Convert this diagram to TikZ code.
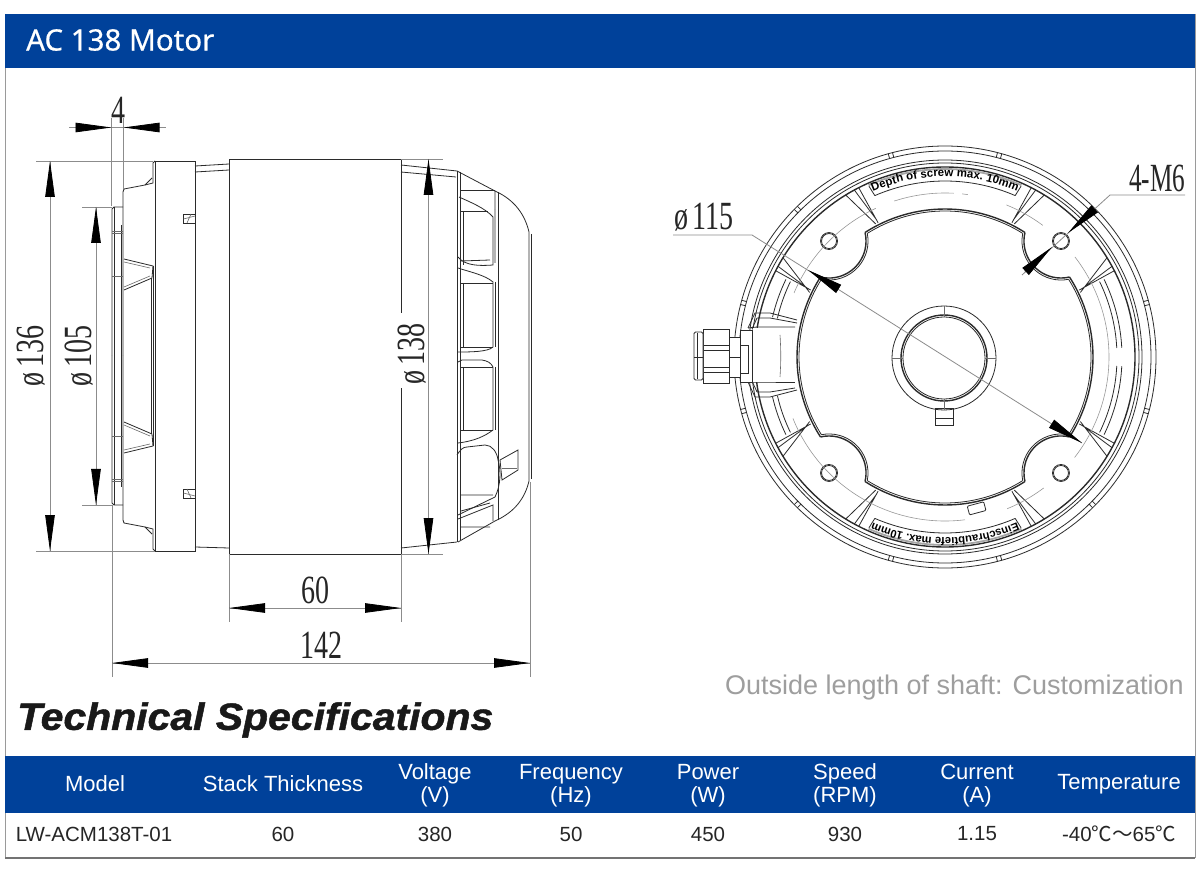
\documentclass[tikz,border=0pt]{standalone}
\usepackage{fontspec}
\setmainfont{Liberation Sans}
\newfontfamily\dimfont{Liberation Serif}
\newfontfamily\titlefont[FakeBold=0.5]{Noto Sans}
\newfontfamily\specfont[FakeBold=1.2]{Liberation Sans Bold Italic}
\newfontfamily\cjk{Noto Sans CJK SC}
\usetikzlibrary{arrows.meta,decorations.text}
\definecolor{motorblue}{HTML}{00419A}
\definecolor{framegray}{HTML}{9A9A9A}
\definecolor{ink}{HTML}{2B2B2B}
\tikzset{
  part/.style={draw=ink, line width=0.8pt},
  heavy/.style={draw=ink, line width=1.4pt},
  thin part/.style={draw=ink!70, line width=0.6pt},
  boltline/.style={draw=gray!80, line width=0.6pt},
  dimline/.style={draw=black!45, line width=0.8pt},
  dimhead/.style={draw=black!45, line width=0.8pt, -{Triangle[length=36pt,width=9.5pt,black]}},
  dimlabel/.style={font=\dimfont\fontsize{40}{40}\selectfont, inner sep=0pt, xscale=0.7, text=black!85},
  headcell/.style={font=\fontsize{22}{23}\selectfont, text=white, align=center, inner sep=0pt},
  datacell/.style={font=\fontsize{20.5}{22}\selectfont, text=black!85, inner sep=0pt}
}
\newcommand{\dimtip}[2] {\draw [dimhead] (#1) -- (#2);}
\newcommand{\dimtext}[4] {\node at (#1) (#2) [rotate=#3, dimlabel] {#4};}
\newcommand{\headcol}[3] {\node at (#1) (#2) [headcell] {#3};}
\newcommand{\datacol}[3] {\node at (#1) (#2) [datacell] {#3};}
\newcommand{\coverhalf} {
  \draw [part] (155,161) -- (153,163) -- (153,183) -- (145,185) -- (124,189) -- (123,192) -- (123,356);
  \draw [part] (145,185) -- (152,178);
  \draw [part] (123,207) -- (114,207) -- (112,209) -- (112,356);
  \draw [part] (114.5,207) -- (114.5,356);
  \draw [part] (121,225) -- (121,356);
  \draw [thin part] (112,231) -- (123,231) (112,233) -- (123,233) (112,276) -- (123,276);
  \draw [part] (124,259) -- (153,266) -- (152,278) -- (124,290);
  \draw [thin part] (124,262) -- (150,268) (150,276) -- (124,287);
  \draw [part] (151,278) -- (151,356) (153,266) -- (153,356);
  \draw [part] (183.5,214) rectangle (195,223);
  \draw [thin part] (187,223) -- (191,214) (183.5,219) -- (195,216);
}
\begin{document}
\begin{tikzpicture}[x=1pt,y=-1pt]
\useasboundingbox (0,0) rectangle (1200,890);
\fill [white] (0,0) rectangle (1200,890);

\draw [framegray, line width=1pt] (5,14) -- (5,858) (1195,14) -- (1195,858);
\draw [black!55, line width=1.2pt] (5,858) -- (1195,858);
\fill [motorblue] (5,14) rectangle (1195,68);
\node at (26,40) (title) [anchor=west, inner sep=0pt, text=white, font=\titlefont\fontsize{29.5}{30}\selectfont] {AC 138 Motor};

\coverhalf
\begin{scope}[y=1pt, yshift=-712pt]
\coverhalf
\end{scope}
\draw [part] (155,161) rectangle (195,551);
\draw [part] (195,166) -- (229,164) (195,172) -- (229,170) (195,547) -- (229,548);
\draw [part] (401,313) -- (401,159) -- (229,159) -- (229,554) -- (401,554) -- (401,388);
\draw [part] (401,165) -- (457,171) (401,172) -- (456,177) (401,548) -- (457,542);

\draw [part] (495,191) .. controls (515,200) and (525,215) .. (529,232) -- (529,481) .. controls (525,498) and (515,512) .. (495,521);
\draw [part] (531,234) -- (531,479) (498,192) -- (498,520);
\draw [part] (457,171) -- (495,191) -- (495,210) (458,542) -- (495,521);
\draw [part] (457,171) -- (457,542) (460,172) -- (460,540);
\draw [part] (463,211) -- (463,265) (463,283) -- (463,347) (463,367) -- (463,430);

\draw [part] (461,190) -- (495,190) (461,211) -- (488,211);
\draw [part] (459,197) .. controls (470,202) and (485,208) .. (493,217) -- (493,265) .. controls (480,266) and (465,266) .. (458,257);
\draw [part] (495,210) -- (495,263) (461,261) -- (490,260);
\draw [part] (458,268) .. controls (470,272) and (485,275) .. (493,282) -- (493,347) .. controls (488,352) and (470,352) .. (458,352);
\draw [part] (461,283) -- (493,283) (461,347) -- (493,347) (495,282) -- (495,347);
\draw [part] (458,362) -- (462,360) -- (482,360) .. controls (488,361) and (491,363) .. (493,367) -- (493,430) .. controls (485,436) and (475,441) .. (458,443);
\draw [part] (461,367) -- (493,367) (461,430) -- (493,430) (495,367) -- (495,430);
\draw [part] (457,455) .. controls (460,450) and (463,447) .. (467,447) -- (485,445) .. controls (492,445) and (497,452) .. (498,460) .. controls (501,470) and (501,485) .. (495,497) -- (458,515);
\draw [part] (461,495) -- (493,495) (461,511) -- (490,503);
\draw [part] (458,519) -- (493,505) -- (493,521) (461,527) -- (490,527);
\draw [part, fill=white] (500,460) -- (518,450) -- (518,470) -- (502,480) -- cycle;
\draw [thin part] (502,468) -- (517,468);

\begin{scope}[shift={(945,357)}]
\foreach \r in {211,206,197,194}
  \draw [part] (0:\r pt) arc [start angle=0, end angle=360, radius=\r pt];
\draw [heavy] (0:190pt) arc [start angle=0, end angle=360, radius=190pt];
\foreach \a in {15,45,...,345} {
  \draw [part] (\a-0.6:206pt) -- (\a-0.6:211pt);
  \draw [part] (\a+0.6:206pt) -- (\a+0.6:211pt);
}
\foreach \a in {45,135,225,315} {
  \draw [heavy] ({\a+12.3}:148pt) arc [start angle=\a+12.3, end angle=\a+77.7, radius=148pt];
  \draw [part] ({\a+12.8}:146pt) arc [start angle=\a+12.8, end angle=\a+77.2, radius=146pt];
  \draw [heavy] (\a:164pt) ++(\a+121.6:37pt) arc [start angle=\a+121.6, end angle=\a+238.4, radius=37pt];
  \draw [part] (\a:164pt) ++(\a+123.8:39pt) arc [start angle=\a+123.8, end angle=\a+236.2, radius=39pt];
  \draw [part, fill=white] (\a:164pt) circle [radius=8.5pt];
  \draw [part] (\a:164pt) circle [radius=7.5pt];
}
\foreach \b in {63.5,-63.5,-116.5,116.5} {
  \pgfmathsetmacro{\lean}{(abs(\b)<90) ? -1 : 1}
  \pgfmathsetmacro{\lean}{\lean*(\b<0 ? -1 : 1)}
  \draw [part] (\b:150pt) -- ({\b+\lean*0.5}:190pt) ({\b+\lean*1}:150pt) -- ({\b+\lean*5}:190pt) (\b:153pt) -- ({\b+\lean*2}:190pt);
}
\foreach \b in {26.5,-26.5,-153.5,153.5} {
  \pgfmathsetmacro{\lean}{(abs(\b)<90) ? 1 : -1}
  \pgfmathsetmacro{\lean}{\lean*(\b<0 ? -1 : 1)}
  \draw [part] (\b:150pt) -- ({\b+\lean*0.5}:190pt) ({\b-\lean*1}:150pt) -- ({\b+\lean*5}:190pt) (\b:153pt) -- ({\b+\lean*2}:190pt);
}
\foreach \s/\e in {157/115,108/87,82/84,68/53.4,37.6/-37.8,-53/-67.7,-83/-158,173/187}
  \draw [boltline] (\s:164pt) arc [start angle=\s, end angle=\e, radius=164pt];
\foreach \s/\e in {26/3,-3/-26,154/167,193/206} {
  \draw [part] (\s:172pt) arc [start angle=\s, end angle=\e, radius=172pt];
  \draw [part] (\s:177pt) arc [start angle=\s, end angle=\e, radius=177pt];
}
\foreach \t in {90,-90} {
  \draw [draw=gray!70, line width=1.8pt] (\t+24:188pt) arc [start angle=\t+24, end angle=\t-24, radius=188pt];
  \draw [part] (\t+23.5:176pt) arc [start angle=\t+23.5, end angle=\t-23.5, radius=176pt];
  \draw [part] (\t+23.5:176pt) -- (\t+24:187pt) (\t-23.5:176pt) -- (\t-24:187pt);
}
\path [decorate, decoration={text along path, text align=center, text={|\bfseries\fontsize{11.5}{11.5}\selectfont|Depth of screw max. 10mm}}] (113:180.5pt) arc [start angle=113, end angle=67, radius=180.5pt];
\path [decorate, decoration={text along path, text align=center, text={|\bfseries\fontsize{11.2}{11.2}\selectfont|Einschraubtiefe max. 10mm}}] (-67:180.5pt) arc [start angle=-67, end angle=-113, radius=180.5pt];
\draw [part, fill=white] (-1,1) circle [radius=52pt];
\draw [heavy] (-1,1) circle [radius=43pt];
\draw [part] (-1,1) circle [radius=41pt];
\end{scope}
\draw [part] (935,408) rectangle (953,425) (935,418) -- (953,418);
\draw [part, rounded corners=1pt, rotate around={15:(976,508)}] (968,504) rectangle (985,513);
\foreach \t in {0,90,180,270}
  \draw [thin part] (944,358) ++(\t:41pt) -- ++(\t:11pt);

\fill [white] (753,328) rectangle (795,382);
\draw [part] (748,328) -- (755,313) -- (770,313) -- (797,320);
\draw [part] (757,318) -- (770,318) -- (797,323) (757,318) -- (752,329);
\draw [part] (748,328) -- (757,327) -- (795,327);
\draw [part] (748,382) -- (755,397) -- (770,397) -- (797,390);
\draw [part] (757,392) -- (770,392) -- (795,388) (757,392) -- (752,381);
\draw [part] (748,382) -- (757,382) -- (795,382);
\draw [thin part] (780,335) .. controls (781,350) and (781,362) .. (780,377);
\draw [part, fill=white] (740,330) rectangle (752,382);
\draw [part] (740,345) -- (748,345) -- (748,373) -- (740,373);
\draw [part, fill=white] (729,337) rectangle (740,377);
\draw [part] (729,357) -- (740,357);
\draw [part, fill=white] (703,329) rectangle (729,383);
\draw [part] (703,345) -- (729,345) (703,350) -- (729,350) (703,367) -- (729,367) (703,372) -- (729,372);
\draw [part, fill=white, rounded corners=1.5pt] (694,332) rectangle (703,380);
\draw [part] (694,357) -- (703,357) (697,333) -- (697,379);

\draw [dimline] (69,127.5) -- (166,127.5);
\draw [dimline] (111.5,118) -- (111.5,206) (123.5,118) -- (123.5,189);
\dimtip {76,127.5}{111.5,127.5}
\dimtip {158,127.5}{123.5,127.5}
\dimtext {118,110}{dimfour}{0}{4}

\draw [dimline] (36,161) -- (153,161) (36,551) -- (155,551) (50,161) -- (50,551);
\dimtip {50,197}{50,161}
\dimtip {50,515}{50,551}
\dimtext {31.5,356}{dimflange}{90}{ø\,136}

\draw [dimline] (82,207) -- (112,207) (82,505) -- (112,505) (96,207) -- (96,505);
\dimtip {96,243}{96,207}
\dimtip {96,469}{96,505}
\dimtext {79,356}{dimcover}{90}{ø\,105}

\draw [dimline] (401,159) -- (443,159) (401,554) -- (443,554) (428.5,159) -- (428.5,554);
\dimtip {428.5,195}{428.5,159}
\dimtip {428.5,518}{428.5,554}
\dimtext {412.5,354}{dimstator}{90}{ø\,138}

\draw [dimline] (229,554) -- (229,622) (401,554) -- (401,622) (229,608) -- (401,608);
\dimtip {265,608}{229,608}
\dimtip {365,608}{401,608}
\dimtext {315,590}{dimstack}{0}{60}

\draw [dimline] (112,505) -- (112,677) (530,482) -- (530,677) (112,663) -- (530,663);
\dimtip {148,663}{112,663}
\dimtip {494,663}{530,663}
\dimtext {321,645}{dimlength}{0}{142}

\coordinate (boltleft) at (752,235);
\coordinate (boltright) at (1082,443);
\draw [dimline] (673,235) -- (boltleft) -- (boltright);
\dimtip {838,288.5}{808,270}
\dimtip {1052,424}{1082,443}
\dimtext {704,217}{dimbolt}{0}{ø\,115}

\coordinate (screwknee) at (1110,195);
\coordinate (screwend) at (1022,275);
\draw [dimline] (1185,195) -- (screwknee) -- (screwend);
\dimtip {1095,208.5}{1068,233}
\dimtip {1025,272}{1052,247}
\dimtext {1157,178}{dimscrew}{0}{\scalebox{.9}[1]{4-M6}}

\node at (1184,688) (shaftnote) [anchor=east, inner sep=0pt, text=black!38, font=\fontsize{27}{27}\selectfont] {Outside length of shaft: Customization};
\node at (17,720) (spectitle) [anchor=west, inner sep=0pt, xscale=1.077, text=black!90, font=\specfont\fontsize{38}{38}\selectfont] {Technical Specifications};

\fill [motorblue] (5,755.5) rectangle (1195,813);
\headcol {95,784}{hmodel}{Model}
\headcol {283,784}{hstack}{Stack Thickness}
\headcol {435,785.5}{hvolt}{Voltage\\(V)}
\headcol {571,785.5}{hfreq}{Frequency\\(Hz)}
\headcol {708,785.5}{hpower}{Power\\(W)}
\headcol {845,785.5}{hspeed}{Speed\\(RPM)}
\headcol {977,785.5}{hcurrent}{Current\\(A)}
\headcol {1119,784}{htemp}{Temperature}

\datacol {94,834}{dmodel}{LW-ACM138T-01}
\datacol {283,834}{dstack}{60}
\datacol {435,834}{dvolt}{380}
\datacol {571,834}{dfreq}{50}
\datacol {708,834}{dpower}{450}
\datacol {845,834}{dspeed}{930}
\datacol {977,834}{dcurrent}{1.15}
\datacol {1119,834}{dtemp}{-40{\cjk ℃～}65{\cjk ℃}}

\end{tikzpicture}
\end{document}
